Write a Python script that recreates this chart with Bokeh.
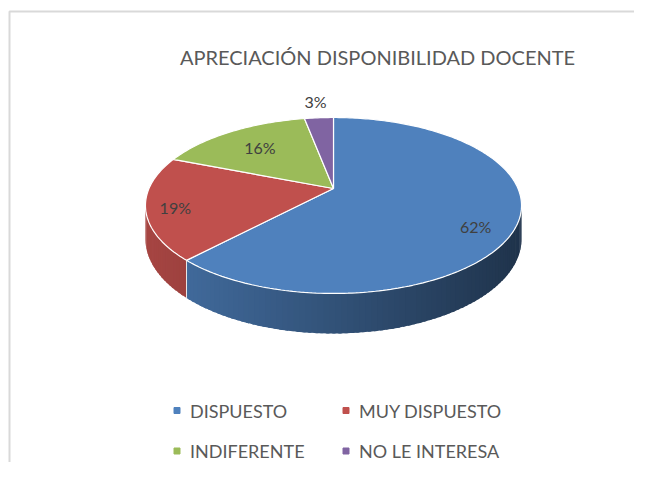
import numpy as np
from bokeh.plotting import figure
from bokeh.models import Range1d
from bokeh.core.properties import value
from bokeh.embed import file_html
from bokeh.resources import INLINE

# ---------------- data ----------------
categories = ["DISPUESTO", "MUY DISPUESTO", "INDIFERENTE", "NO LE INTERESA"]
values = [62, 19, 16, 3]
pct_labels = ["62%", "19%", "16%", "3%"]
colors = ["#4F81BD", "#C0504D", "#9BBB59", "#8064A2"]
title_text = "APRECIACIÓN DISPONIBILIDAD DOCENTE"

# ---------------- style / geometry ----------------
FONT = "Lato"
TXT = "#595959"
CX, CY = 333.0, 188.0      # projected centre of the pie
A, B = 184.5, 84.7         # projected radii
K = 0.193                  # perspective factor
D0 = 32.3                  # thickness
label_r = [0.82, 0.85, 0.69, 1.29]
label_shift = [8.5, -2.4, 0.0, 0.0]

def proj(phi, r=1.0):
    s = np.sin(phi); c = np.cos(phi)
    den = 1 - K * r * s
    return CX + A * r * c / den, CY + B * r * s / den

def hex2rgb(h):
    h = h.lstrip("#")
    return tuple(int(h[i:i + 2], 16) for i in (0, 2, 4))

def shade(h, f):
    r, g, b = hex2rgb(h)
    return "#%02x%02x%02x" % (int(r * f), int(g * f), int(b * f))

W, H = 634, 462
p = figure(width=W, height=H, x_range=Range1d(0, W), y_range=Range1d(H, 0),
           x_axis_type=None, y_axis_type=None, output_backend="svg",
           toolbar_location=None, min_border=0)
p.grid.visible = False
p.outline_line_color = None
p.background_fill_color = "white"
p.border_fill_color = "white"

# chart-area border (left and top)
p.line(x=[9, 9, W + 5], y=[H + 5, 11, 11], line_color="#d9d9d9", line_width=2)

total = float(sum(values))
fracs = [v / total for v in values]
starts = []
a = -np.pi / 2
for f in fracs:
    starts.append(a)
    a += 2 * np.pi * f
ends = [s + 2 * np.pi * f for s, f in zip(starts, fracs)]

# ---------------- side (visible front wall) ----------------
lo = np.arcsin(K)
hi = np.pi - lo
sx, sy, sc = [], [], []
seg_x0, seg_y0, seg_x1, seg_y1 = [], [], [], []
ov = np.radians(0.8)
for s0, s1, col in zip(starts, ends, colors):
    for shift in (0, 2 * np.pi, -2 * np.pi):
        a0 = max(s0 + shift, lo)
        a1 = min(s1 + shift, hi)
        if a1 <= a0:
            continue
        n = max(2, int(np.degrees(a1 - a0) / 1.5) + 1)
        ph = np.linspace(a0, a1, n)
        for i in range(n - 1):
            e1 = min(ph[i + 1] + ov, a1)
            pp = np.linspace(ph[i], e1, 4)
            xt, yt = proj(pp)
            depth = D0 / (1 - K * np.sin(pp))
            xb, yb = xt, yt + depth
            xs = list(xt) + list(xb[::-1])
            ys = list(yt) + list(yb[::-1])
            xm = float(np.mean(xt))
            fct = 0.87 - 0.47 * (xm - 145) / 375.0
            sx.append(xs); sy.append(ys); sc.append(shade(col, fct))
for b_ang in starts:
    for shift in (0, 2 * np.pi):
        ang = b_ang + shift
        if lo < ang < hi:
            x0, y0 = proj(ang)
            d = D0 / (1 - K * np.sin(ang))
            seg_x0.append(x0); seg_y0.append(y0); seg_x1.append(x0); seg_y1.append(y0 + d)

p.patches(xs=sx, ys=sy, fill_color=sc, line_color=None)
if seg_x0:
    p.segment(x0=seg_x0, y0=seg_y0, x1=seg_x1, y1=seg_y1, line_color="#e8e8e8", line_width=1)

# ---------------- top face ----------------
tx, ty = [], []
for s0, s1 in zip(starts, ends):
    n = max(3, int(np.degrees(s1 - s0) / 1.0) + 2)
    ph = np.linspace(s0, s1, n)
    x, y = proj(ph)
    tx.append([CX] + list(x))
    ty.append([CY] + list(y))
p.patches(xs=tx, ys=ty, fill_color=colors, line_color="white", line_width=1.2)

# ---------------- percentage labels ----------------
lx, ly = [], []
for s0, s1, r, sh in zip(starts, ends, label_r, label_shift):
    mid = (s0 + s1) / 2 + np.radians(sh)
    x, y = proj(mid, r)
    lx.append(float(x)); ly.append(float(y))
p.text(x=lx, y=ly, text=pct_labels, text_font=value(FONT), text_font_size="16px",
       text_color="#404040", text_align="center", text_baseline="middle")

# ---------------- title ----------------
p.text(x=[377], y=[56], text=[title_text], text_font=value(FONT), text_font_size="20px",
       text_color=TXT, text_align="center", text_baseline="middle")

# ---------------- legend ----------------
mx = [176.5, 345.5, 176.5, 345.5]
my = [410, 410, 450.5, 450.5]
p.scatter(x=mx, y=my, marker="square", size=6, fill_color=colors, line_color=colors)
p.text(x=[m + 13 for m in mx], y=my, text=categories, text_font=value(FONT),
       text_font_size="18px", text_color=TXT, text_align="left", text_baseline="middle")

open("out.html", "w").write(file_html(p, INLINE))
